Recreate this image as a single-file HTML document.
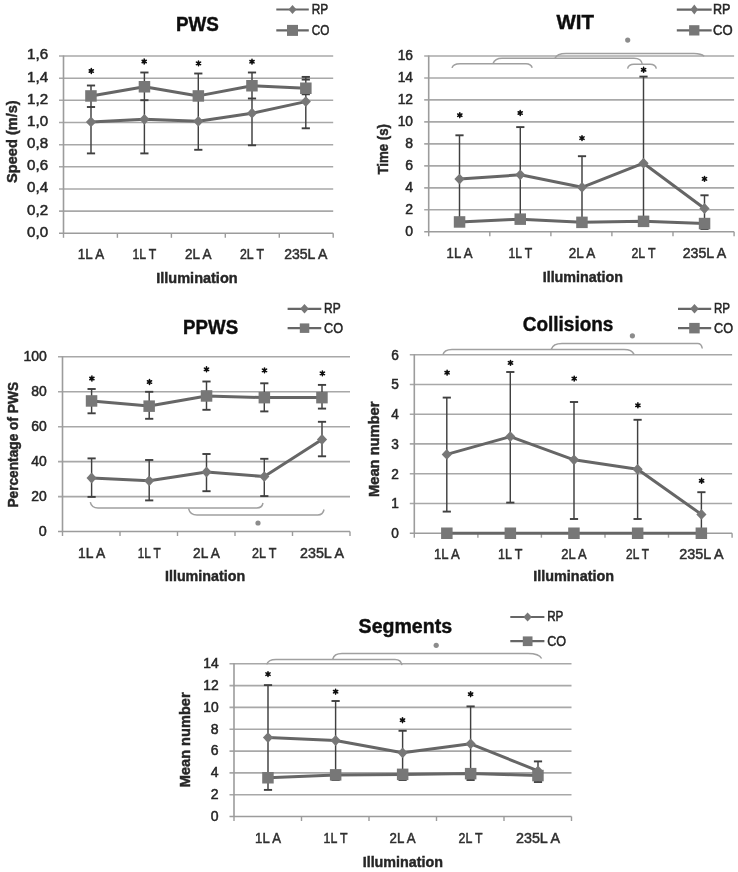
<!DOCTYPE html>
<html><head><meta charset="utf-8"><style>
html,body{margin:0;padding:0;background:#fff;}
svg{display:block;font-family:"Liberation Sans", sans-serif;}
</style></head><body>
<svg width="738" height="872" viewBox="0 0 738 872" fill="#262626">
<defs><filter id="b" x="0" y="0" width="1" height="1"><feGaussianBlur stdDeviation="0.55"/></filter></defs>
<rect width="738" height="872" fill="#fff"/>
<g filter="url(#b)">
<text x="48.1" y="236.7" font-size="14" stroke="#262626" stroke-width="0.5" text-anchor="end" textLength="21.0" lengthAdjust="spacingAndGlyphs">0,0</text>
<line x1="59.0" y1="211.1" x2="333.2" y2="211.1" stroke="#a8a8a8" stroke-width="1.6"/>
<text x="48.1" y="214.5" font-size="14" stroke="#262626" stroke-width="0.5" text-anchor="end" textLength="21.0" lengthAdjust="spacingAndGlyphs">0,2</text>
<line x1="59.0" y1="189.0" x2="333.2" y2="189.0" stroke="#a8a8a8" stroke-width="1.6"/>
<text x="48.1" y="192.4" font-size="14" stroke="#262626" stroke-width="0.5" text-anchor="end" textLength="21.0" lengthAdjust="spacingAndGlyphs">0,4</text>
<line x1="59.0" y1="166.8" x2="333.2" y2="166.8" stroke="#a8a8a8" stroke-width="1.6"/>
<text x="48.1" y="170.2" font-size="14" stroke="#262626" stroke-width="0.5" text-anchor="end" textLength="21.0" lengthAdjust="spacingAndGlyphs">0,6</text>
<line x1="59.0" y1="144.7" x2="333.2" y2="144.7" stroke="#a8a8a8" stroke-width="1.6"/>
<text x="48.1" y="148.1" font-size="14" stroke="#262626" stroke-width="0.5" text-anchor="end" textLength="21.0" lengthAdjust="spacingAndGlyphs">0,8</text>
<line x1="59.0" y1="122.5" x2="333.2" y2="122.5" stroke="#a8a8a8" stroke-width="1.6"/>
<text x="48.1" y="125.9" font-size="14" stroke="#262626" stroke-width="0.5" text-anchor="end" textLength="21.0" lengthAdjust="spacingAndGlyphs">1,0</text>
<line x1="59.0" y1="100.3" x2="333.2" y2="100.3" stroke="#a8a8a8" stroke-width="1.6"/>
<text x="48.1" y="103.7" font-size="14" stroke="#262626" stroke-width="0.5" text-anchor="end" textLength="21.0" lengthAdjust="spacingAndGlyphs">1,2</text>
<line x1="59.0" y1="78.2" x2="333.2" y2="78.2" stroke="#a8a8a8" stroke-width="1.6"/>
<text x="48.1" y="81.6" font-size="14" stroke="#262626" stroke-width="0.5" text-anchor="end" textLength="21.0" lengthAdjust="spacingAndGlyphs">1,4</text>
<line x1="59.0" y1="56.0" x2="333.2" y2="56.0" stroke="#a8a8a8" stroke-width="1.6"/>
<text x="48.1" y="59.4" font-size="14" stroke="#262626" stroke-width="0.5" text-anchor="end" textLength="21.0" lengthAdjust="spacingAndGlyphs">1,6</text>
<line x1="63.5" y1="55.5" x2="63.5" y2="233.8" stroke="#9c9c9c" stroke-width="1.6"/>
<line x1="59.0" y1="233.3" x2="333.2" y2="233.3" stroke="#9c9c9c" stroke-width="1.6"/>
<line x1="63.5" y1="233.3" x2="63.5" y2="237.8" stroke="#9c9c9c" stroke-width="1.4"/>
<line x1="117.4" y1="233.3" x2="117.4" y2="237.8" stroke="#9c9c9c" stroke-width="1.4"/>
<line x1="171.4" y1="233.3" x2="171.4" y2="237.8" stroke="#9c9c9c" stroke-width="1.4"/>
<line x1="225.3" y1="233.3" x2="225.3" y2="237.8" stroke="#9c9c9c" stroke-width="1.4"/>
<line x1="279.3" y1="233.3" x2="279.3" y2="237.8" stroke="#9c9c9c" stroke-width="1.4"/>
<line x1="333.2" y1="233.3" x2="333.2" y2="237.8" stroke="#9c9c9c" stroke-width="1.4"/>
<line x1="91.0" y1="85.5" x2="91.0" y2="153.4" stroke="#404040" stroke-width="1.45"/>
<line x1="86.9" y1="85.5" x2="95.1" y2="85.5" stroke="#404040" stroke-width="1.9"/>
<line x1="86.9" y1="107.0" x2="95.1" y2="107.0" stroke="#404040" stroke-width="1.9"/>
<line x1="86.9" y1="153.4" x2="95.1" y2="153.4" stroke="#404040" stroke-width="1.9"/>
<line x1="144.4" y1="72.5" x2="144.4" y2="153.4" stroke="#404040" stroke-width="1.45"/>
<line x1="140.3" y1="72.5" x2="148.5" y2="72.5" stroke="#404040" stroke-width="1.9"/>
<line x1="140.3" y1="100.2" x2="148.5" y2="100.2" stroke="#404040" stroke-width="1.9"/>
<line x1="140.3" y1="153.4" x2="148.5" y2="153.4" stroke="#404040" stroke-width="1.9"/>
<line x1="198.3" y1="73.5" x2="198.3" y2="149.8" stroke="#404040" stroke-width="1.45"/>
<line x1="194.2" y1="73.5" x2="202.4" y2="73.5" stroke="#404040" stroke-width="1.9"/>
<line x1="194.2" y1="149.8" x2="202.4" y2="149.8" stroke="#404040" stroke-width="1.9"/>
<line x1="252.0" y1="72.5" x2="252.0" y2="145.3" stroke="#404040" stroke-width="1.45"/>
<line x1="247.9" y1="72.5" x2="256.1" y2="72.5" stroke="#404040" stroke-width="1.9"/>
<line x1="247.9" y1="98.5" x2="256.1" y2="98.5" stroke="#404040" stroke-width="1.9"/>
<line x1="247.9" y1="145.3" x2="256.1" y2="145.3" stroke="#404040" stroke-width="1.9"/>
<line x1="305.8" y1="76.9" x2="305.8" y2="128.3" stroke="#404040" stroke-width="1.45"/>
<line x1="301.7" y1="76.9" x2="309.9" y2="76.9" stroke="#404040" stroke-width="1.9"/>
<line x1="301.7" y1="79.6" x2="309.9" y2="79.6" stroke="#404040" stroke-width="1.9"/>
<line x1="301.7" y1="94.3" x2="309.9" y2="94.3" stroke="#404040" stroke-width="1.9"/>
<line x1="301.7" y1="128.3" x2="309.9" y2="128.3" stroke="#404040" stroke-width="1.9"/>
<polyline points="91.0,95.9 144.4,86.7 198.3,95.9 252.0,85.7 305.8,88.2" fill="none" stroke="#666666" stroke-width="3" stroke-linejoin="round"/>
<polyline points="91.0,121.9 144.4,119.3 198.3,121.3 252.0,113.2 305.8,101.6" fill="none" stroke="#666666" stroke-width="3" stroke-linejoin="round"/>
<path d="M91.0 116.5L96.1 121.9L91.0 127.3L85.9 121.9Z" fill="#777777"/>
<path d="M144.4 113.9L149.5 119.3L144.4 124.7L139.3 119.3Z" fill="#777777"/>
<path d="M198.3 115.9L203.4 121.3L198.3 126.7L193.2 121.3Z" fill="#777777"/>
<path d="M252.0 107.8L257.1 113.2L252.0 118.6L246.9 113.2Z" fill="#777777"/>
<path d="M305.8 96.2L310.9 101.6L305.8 107.0L300.7 101.6Z" fill="#777777"/>
<rect x="85.2" y="90.2" width="11.5" height="11.5" fill="#777777"/>
<rect x="138.7" y="81.0" width="11.5" height="11.5" fill="#777777"/>
<rect x="192.6" y="90.2" width="11.5" height="11.5" fill="#777777"/>
<rect x="246.2" y="80.0" width="11.5" height="11.5" fill="#777777"/>
<rect x="300.1" y="82.5" width="11.5" height="11.5" fill="#777777"/>
<path d="M91.30 68.58L91.30 73.42M89.21 69.79L93.39 72.21M93.39 69.79L89.21 72.21" stroke="#111" stroke-width="1.58" stroke-linecap="round"/>
<circle cx="91.3" cy="71.0" r="1.26" fill="#111"/>
<path d="M144.20 59.09L144.20 63.91M142.11 60.29L146.29 62.71M146.29 60.29L142.11 62.71" stroke="#111" stroke-width="1.58" stroke-linecap="round"/>
<circle cx="144.2" cy="61.5" r="1.26" fill="#111"/>
<path d="M198.50 60.98L198.50 65.81M196.41 62.19L200.59 64.61M200.59 62.19L196.41 64.61" stroke="#111" stroke-width="1.58" stroke-linecap="round"/>
<circle cx="198.5" cy="63.4" r="1.26" fill="#111"/>
<path d="M252.00 59.29L252.00 64.12M249.91 60.49L254.09 62.91M254.09 60.49L249.91 62.91" stroke="#111" stroke-width="1.58" stroke-linecap="round"/>
<circle cx="252.0" cy="61.7" r="1.26" fill="#111"/>
<text x="91.0" y="258.8" font-size="14.5" stroke="#2e2e2e" stroke-width="0.5" text-anchor="middle" textLength="26.3" lengthAdjust="spacingAndGlyphs" fill="#2e2e2e">1L A</text>
<text x="144.4" y="258.8" font-size="14.5" stroke="#2e2e2e" stroke-width="0.5" text-anchor="middle" textLength="23.8" lengthAdjust="spacingAndGlyphs" fill="#2e2e2e">1L T</text>
<text x="198.3" y="258.8" font-size="14.5" stroke="#2e2e2e" stroke-width="0.5" text-anchor="middle" textLength="26.5" lengthAdjust="spacingAndGlyphs" fill="#2e2e2e">2L A</text>
<text x="252.0" y="258.8" font-size="14.5" stroke="#2e2e2e" stroke-width="0.5" text-anchor="middle" textLength="24.0" lengthAdjust="spacingAndGlyphs" fill="#2e2e2e">2L T</text>
<text x="305.8" y="258.8" font-size="14.5" stroke="#2e2e2e" stroke-width="0.5" text-anchor="middle" textLength="43.2" lengthAdjust="spacingAndGlyphs" fill="#2e2e2e">235L A</text>
<text x="156.3" y="283.3" font-size="15.5" stroke="#262626" stroke-width="0.45" font-weight="bold" textLength="81.3" lengthAdjust="spacingAndGlyphs">Illumination</text>
<text x="17.0" y="182.9" font-size="14.5" stroke="#262626" stroke-width="0.45" font-weight="bold" textLength="82.6" lengthAdjust="spacingAndGlyphs" transform="rotate(-90 17.0 182.9)">Speed (m/s)</text>
<text x="176.0" y="30.8" font-size="20" stroke="#111" stroke-width="0.45" font-weight="bold" textLength="42.9" lengthAdjust="spacingAndGlyphs" fill="#111">PWS</text>
<line x1="276.3" y1="9.5" x2="308.8" y2="9.5" stroke="#666666" stroke-width="2.2"/>
<path d="M292.5 5.0L296.5 9.5L292.5 14.0L288.5 9.5Z" fill="#777777"/>
<line x1="276.3" y1="30.4" x2="308.8" y2="30.4" stroke="#666666" stroke-width="2.2"/>
<rect x="287.0" y="24.9" width="11" height="11" fill="#777777"/>
<text x="311.8" y="13.8" font-size="14.5" stroke="#262626" stroke-width="0.5" textLength="16.5" lengthAdjust="spacingAndGlyphs">RP</text>
<text x="311.8" y="35.3" font-size="14.5" stroke="#262626" stroke-width="0.5" textLength="17.6" lengthAdjust="spacingAndGlyphs">CO</text>
<text x="413.0" y="235.7" font-size="14" stroke="#262626" stroke-width="0.5" text-anchor="end" textLength="7.8" lengthAdjust="spacingAndGlyphs">0</text>
<line x1="424.2" y1="209.8" x2="734.1" y2="209.8" stroke="#a8a8a8" stroke-width="1.6"/>
<text x="413.0" y="213.7" font-size="14" stroke="#262626" stroke-width="0.5" text-anchor="end" textLength="7.8" lengthAdjust="spacingAndGlyphs">2</text>
<line x1="424.2" y1="187.9" x2="734.1" y2="187.9" stroke="#a8a8a8" stroke-width="1.6"/>
<text x="413.0" y="191.8" font-size="14" stroke="#262626" stroke-width="0.5" text-anchor="end" textLength="7.8" lengthAdjust="spacingAndGlyphs">4</text>
<line x1="424.2" y1="165.9" x2="734.1" y2="165.9" stroke="#a8a8a8" stroke-width="1.6"/>
<text x="413.0" y="169.8" font-size="14" stroke="#262626" stroke-width="0.5" text-anchor="end" textLength="7.8" lengthAdjust="spacingAndGlyphs">6</text>
<line x1="424.2" y1="143.9" x2="734.1" y2="143.9" stroke="#a8a8a8" stroke-width="1.6"/>
<text x="413.0" y="147.8" font-size="14" stroke="#262626" stroke-width="0.5" text-anchor="end" textLength="7.8" lengthAdjust="spacingAndGlyphs">8</text>
<line x1="424.2" y1="121.9" x2="734.1" y2="121.9" stroke="#a8a8a8" stroke-width="1.6"/>
<text x="413.0" y="125.8" font-size="14" stroke="#262626" stroke-width="0.5" text-anchor="end" textLength="15.3" lengthAdjust="spacingAndGlyphs">10</text>
<line x1="424.2" y1="99.9" x2="734.1" y2="99.9" stroke="#a8a8a8" stroke-width="1.6"/>
<text x="413.0" y="103.8" font-size="14" stroke="#262626" stroke-width="0.5" text-anchor="end" textLength="15.3" lengthAdjust="spacingAndGlyphs">12</text>
<line x1="424.2" y1="78.0" x2="734.1" y2="78.0" stroke="#a8a8a8" stroke-width="1.6"/>
<text x="413.0" y="81.9" font-size="14" stroke="#262626" stroke-width="0.5" text-anchor="end" textLength="15.3" lengthAdjust="spacingAndGlyphs">14</text>
<line x1="424.2" y1="56.0" x2="734.1" y2="56.0" stroke="#a8a8a8" stroke-width="1.6"/>
<text x="413.0" y="59.9" font-size="14" stroke="#262626" stroke-width="0.5" text-anchor="end" textLength="15.3" lengthAdjust="spacingAndGlyphs">16</text>
<line x1="428.7" y1="55.5" x2="428.7" y2="232.3" stroke="#9c9c9c" stroke-width="1.6"/>
<line x1="424.2" y1="231.8" x2="734.1" y2="231.8" stroke="#9c9c9c" stroke-width="1.6"/>
<line x1="428.7" y1="231.8" x2="428.7" y2="236.3" stroke="#9c9c9c" stroke-width="1.4"/>
<line x1="489.8" y1="231.8" x2="489.8" y2="236.3" stroke="#9c9c9c" stroke-width="1.4"/>
<line x1="550.9" y1="231.8" x2="550.9" y2="236.3" stroke="#9c9c9c" stroke-width="1.4"/>
<line x1="611.9" y1="231.8" x2="611.9" y2="236.3" stroke="#9c9c9c" stroke-width="1.4"/>
<line x1="673.0" y1="231.8" x2="673.0" y2="236.3" stroke="#9c9c9c" stroke-width="1.4"/>
<line x1="734.1" y1="231.8" x2="734.1" y2="236.3" stroke="#9c9c9c" stroke-width="1.4"/>
<path d="M452 67.9 Q453 63.7 460 63.7 L526 63.7 Q531 63.7 532.2 67.8" fill="none" stroke="#a0a0a0" stroke-width="1.5"/>
<path d="M493 63.5 Q495 58.3 502 58.3 L634 58.3 Q641.5 58.3 642.3 64.4" fill="none" stroke="#a0a0a0" stroke-width="1.5"/>
<path d="M555 58.3 Q557 53.6 566 53.6 L694 53.6 Q701 53.6 704.2 56.3" fill="none" stroke="#a0a0a0" stroke-width="1.5"/>
<path d="M627.6 68.6 Q628.5 64.3 634 64.3 L650 64.3 Q655.5 64.3 656.3 68.6" fill="none" stroke="#a0a0a0" stroke-width="1.5"/>
<circle cx="627.7" cy="40.1" r="2.6" fill="#8c8c8c"/>
<line x1="459.5" y1="135.3" x2="459.5" y2="222.0" stroke="#404040" stroke-width="1.45"/>
<line x1="455.4" y1="135.3" x2="463.6" y2="135.3" stroke="#404040" stroke-width="1.9"/>
<line x1="455.4" y1="222.0" x2="463.6" y2="222.0" stroke="#404040" stroke-width="1.9"/>
<line x1="520.3" y1="127.1" x2="520.3" y2="219.0" stroke="#404040" stroke-width="1.45"/>
<line x1="516.2" y1="127.1" x2="524.4" y2="127.1" stroke="#404040" stroke-width="1.9"/>
<line x1="516.2" y1="219.0" x2="524.4" y2="219.0" stroke="#404040" stroke-width="1.9"/>
<line x1="582.0" y1="156.2" x2="582.0" y2="222.0" stroke="#404040" stroke-width="1.45"/>
<line x1="577.9" y1="156.2" x2="586.1" y2="156.2" stroke="#404040" stroke-width="1.9"/>
<line x1="577.9" y1="222.0" x2="586.1" y2="222.0" stroke="#404040" stroke-width="1.9"/>
<line x1="643.5" y1="76.6" x2="643.5" y2="221.0" stroke="#404040" stroke-width="1.45"/>
<line x1="639.4" y1="76.6" x2="647.6" y2="76.6" stroke="#404040" stroke-width="1.9"/>
<line x1="639.4" y1="221.0" x2="647.6" y2="221.0" stroke="#404040" stroke-width="1.9"/>
<line x1="704.5" y1="195.3" x2="704.5" y2="229.0" stroke="#404040" stroke-width="1.45"/>
<line x1="700.4" y1="195.3" x2="708.6" y2="195.3" stroke="#404040" stroke-width="1.9"/>
<line x1="700.4" y1="229.0" x2="708.6" y2="229.0" stroke="#404040" stroke-width="1.9"/>
<polyline points="459.5,222.0 520.3,219.2 582.0,222.3 643.5,221.3 704.5,223.5" fill="none" stroke="#666666" stroke-width="3" stroke-linejoin="round"/>
<polyline points="459.5,179.1 520.3,174.8 582.0,187.3 643.5,163.2 704.5,208.5" fill="none" stroke="#666666" stroke-width="3" stroke-linejoin="round"/>
<path d="M459.5 173.7L464.6 179.1L459.5 184.5L454.4 179.1Z" fill="#777777"/>
<path d="M520.3 169.4L525.4 174.8L520.3 180.2L515.2 174.8Z" fill="#777777"/>
<path d="M582.0 181.9L587.1 187.3L582.0 192.7L576.9 187.3Z" fill="#777777"/>
<path d="M643.5 157.8L648.6 163.2L643.5 168.6L638.4 163.2Z" fill="#777777"/>
<path d="M704.5 203.1L709.6 208.5L704.5 213.9L699.4 208.5Z" fill="#777777"/>
<rect x="453.8" y="216.2" width="11.5" height="11.5" fill="#777777"/>
<rect x="514.5" y="213.4" width="11.5" height="11.5" fill="#777777"/>
<rect x="576.2" y="216.6" width="11.5" height="11.5" fill="#777777"/>
<rect x="637.8" y="215.6" width="11.5" height="11.5" fill="#777777"/>
<rect x="698.8" y="217.8" width="11.5" height="11.5" fill="#777777"/>
<path d="M459.80 112.78L459.80 117.62M457.71 113.99L461.89 116.41M461.89 113.99L457.71 116.41" stroke="#111" stroke-width="1.58" stroke-linecap="round"/>
<circle cx="459.8" cy="115.2" r="1.26" fill="#111"/>
<path d="M520.20 110.58L520.20 115.42M518.11 111.79L522.29 114.21M522.29 111.79L518.11 114.21" stroke="#111" stroke-width="1.58" stroke-linecap="round"/>
<circle cx="520.2" cy="113.0" r="1.26" fill="#111"/>
<path d="M582.00 135.69L582.00 140.51M579.91 136.89L584.09 139.31M584.09 136.89L579.91 139.31" stroke="#111" stroke-width="1.58" stroke-linecap="round"/>
<circle cx="582.0" cy="138.1" r="1.26" fill="#111"/>
<path d="M643.60 67.38L643.60 72.22M641.51 68.59L645.69 71.01M645.69 68.59L641.51 71.01" stroke="#111" stroke-width="1.58" stroke-linecap="round"/>
<circle cx="643.6" cy="69.8" r="1.26" fill="#111"/>
<path d="M704.50 176.49L704.50 181.31M702.41 177.69L706.59 180.11M706.59 177.69L702.41 180.11" stroke="#111" stroke-width="1.58" stroke-linecap="round"/>
<circle cx="704.5" cy="178.9" r="1.26" fill="#111"/>
<text x="459.5" y="257.6" font-size="14.5" stroke="#2e2e2e" stroke-width="0.5" text-anchor="middle" textLength="25.8" lengthAdjust="spacingAndGlyphs" fill="#2e2e2e">1L A</text>
<text x="520.3" y="257.6" font-size="14.5" stroke="#2e2e2e" stroke-width="0.5" text-anchor="middle" textLength="23.7" lengthAdjust="spacingAndGlyphs" fill="#2e2e2e">1L T</text>
<text x="582.0" y="257.6" font-size="14.5" stroke="#2e2e2e" stroke-width="0.5" text-anchor="middle" textLength="26.5" lengthAdjust="spacingAndGlyphs" fill="#2e2e2e">2L A</text>
<text x="643.5" y="257.6" font-size="14.5" stroke="#2e2e2e" stroke-width="0.5" text-anchor="middle" textLength="24.0" lengthAdjust="spacingAndGlyphs" fill="#2e2e2e">2L T</text>
<text x="704.5" y="257.6" font-size="14.5" stroke="#2e2e2e" stroke-width="0.5" text-anchor="middle" textLength="43.5" lengthAdjust="spacingAndGlyphs" fill="#2e2e2e">235L A</text>
<text x="542.7" y="281.7" font-size="15.5" stroke="#262626" stroke-width="0.45" font-weight="bold" textLength="80.3" lengthAdjust="spacingAndGlyphs">Illumination</text>
<text x="387.5" y="174.5" font-size="14.5" stroke="#262626" stroke-width="0.45" font-weight="bold" textLength="50.4" lengthAdjust="spacingAndGlyphs" transform="rotate(-90 387.5 174.5)">Time (s)</text>
<text x="556.4" y="29.3" font-size="21" stroke="#111" stroke-width="0.45" font-weight="bold" textLength="37.5" lengthAdjust="spacingAndGlyphs" fill="#111">WIT</text>
<line x1="676.8" y1="9.6" x2="711.7" y2="9.6" stroke="#666666" stroke-width="2.2"/>
<path d="M694.3 4.6L698.0 9.6L694.3 14.6L690.5 9.6Z" fill="#777777"/>
<line x1="676.8" y1="30.4" x2="711.7" y2="30.4" stroke="#666666" stroke-width="2.2"/>
<rect x="689.1" y="25.2" width="10.3" height="10.3" fill="#777777"/>
<text x="713.0" y="13.9" font-size="14.5" stroke="#262626" stroke-width="0.5" textLength="17.5" lengthAdjust="spacingAndGlyphs">RP</text>
<text x="713.0" y="35.3" font-size="14.5" stroke="#262626" stroke-width="0.5" textLength="19.6" lengthAdjust="spacingAndGlyphs">CO</text>
<text x="46.8" y="535.7" font-size="14" stroke="#262626" stroke-width="0.5" text-anchor="end" textLength="8.0" lengthAdjust="spacingAndGlyphs">0</text>
<line x1="58.0" y1="496.6" x2="350.0" y2="496.6" stroke="#a8a8a8" stroke-width="1.6"/>
<text x="46.8" y="500.8" font-size="14" stroke="#262626" stroke-width="0.5" text-anchor="end" textLength="15.5" lengthAdjust="spacingAndGlyphs">20</text>
<line x1="58.0" y1="461.6" x2="350.0" y2="461.6" stroke="#a8a8a8" stroke-width="1.6"/>
<text x="46.8" y="465.8" font-size="14" stroke="#262626" stroke-width="0.5" text-anchor="end" textLength="15.5" lengthAdjust="spacingAndGlyphs">40</text>
<line x1="58.0" y1="426.7" x2="350.0" y2="426.7" stroke="#a8a8a8" stroke-width="1.6"/>
<text x="46.8" y="430.9" font-size="14" stroke="#262626" stroke-width="0.5" text-anchor="end" textLength="15.5" lengthAdjust="spacingAndGlyphs">60</text>
<line x1="58.0" y1="391.7" x2="350.0" y2="391.7" stroke="#a8a8a8" stroke-width="1.6"/>
<text x="46.8" y="395.9" font-size="14" stroke="#262626" stroke-width="0.5" text-anchor="end" textLength="15.5" lengthAdjust="spacingAndGlyphs">80</text>
<line x1="58.0" y1="356.8" x2="350.0" y2="356.8" stroke="#a8a8a8" stroke-width="1.6"/>
<text x="46.8" y="361.0" font-size="14" stroke="#262626" stroke-width="0.5" text-anchor="end" textLength="23.4" lengthAdjust="spacingAndGlyphs">100</text>
<line x1="62.5" y1="356.3" x2="62.5" y2="532.0" stroke="#9c9c9c" stroke-width="1.6"/>
<line x1="58.0" y1="531.5" x2="350.0" y2="531.5" stroke="#9c9c9c" stroke-width="1.6"/>
<line x1="62.5" y1="531.5" x2="62.5" y2="536.0" stroke="#9c9c9c" stroke-width="1.4"/>
<line x1="120.0" y1="531.5" x2="120.0" y2="536.0" stroke="#9c9c9c" stroke-width="1.4"/>
<line x1="177.5" y1="531.5" x2="177.5" y2="536.0" stroke="#9c9c9c" stroke-width="1.4"/>
<line x1="235.0" y1="531.5" x2="235.0" y2="536.0" stroke="#9c9c9c" stroke-width="1.4"/>
<line x1="292.5" y1="531.5" x2="292.5" y2="536.0" stroke="#9c9c9c" stroke-width="1.4"/>
<line x1="350.0" y1="531.5" x2="350.0" y2="536.0" stroke="#9c9c9c" stroke-width="1.4"/>
<path d="M90.3 502.2 Q91.5 508 98 508 L256.8 508 Q262 508 263 503" fill="none" stroke="#a0a0a0" stroke-width="1.5"/>
<path d="M188.5 508.3 Q190 515 197 515 L317.8 515 Q323 515 324 509.5" fill="none" stroke="#a0a0a0" stroke-width="1.5"/>
<circle cx="258" cy="523" r="2.6" fill="#8c8c8c"/>
<line x1="91.6" y1="389.0" x2="91.6" y2="413.3" stroke="#404040" stroke-width="1.45"/>
<line x1="87.5" y1="389.0" x2="95.7" y2="389.0" stroke="#404040" stroke-width="1.9"/>
<line x1="87.5" y1="413.3" x2="95.7" y2="413.3" stroke="#404040" stroke-width="1.9"/>
<line x1="91.6" y1="458.4" x2="91.6" y2="496.9" stroke="#404040" stroke-width="1.45"/>
<line x1="87.5" y1="458.4" x2="95.7" y2="458.4" stroke="#404040" stroke-width="1.9"/>
<line x1="87.5" y1="496.9" x2="95.7" y2="496.9" stroke="#404040" stroke-width="1.9"/>
<line x1="149.2" y1="391.8" x2="149.2" y2="418.8" stroke="#404040" stroke-width="1.45"/>
<line x1="145.1" y1="391.8" x2="153.3" y2="391.8" stroke="#404040" stroke-width="1.9"/>
<line x1="145.1" y1="418.8" x2="153.3" y2="418.8" stroke="#404040" stroke-width="1.9"/>
<line x1="149.2" y1="460.0" x2="149.2" y2="500.4" stroke="#404040" stroke-width="1.45"/>
<line x1="145.1" y1="460.0" x2="153.3" y2="460.0" stroke="#404040" stroke-width="1.9"/>
<line x1="145.1" y1="500.4" x2="153.3" y2="500.4" stroke="#404040" stroke-width="1.9"/>
<line x1="206.5" y1="381.5" x2="206.5" y2="409.8" stroke="#404040" stroke-width="1.45"/>
<line x1="202.4" y1="381.5" x2="210.6" y2="381.5" stroke="#404040" stroke-width="1.9"/>
<line x1="202.4" y1="409.8" x2="210.6" y2="409.8" stroke="#404040" stroke-width="1.9"/>
<line x1="206.5" y1="454.0" x2="206.5" y2="491.2" stroke="#404040" stroke-width="1.45"/>
<line x1="202.4" y1="454.0" x2="210.6" y2="454.0" stroke="#404040" stroke-width="1.9"/>
<line x1="202.4" y1="491.2" x2="210.6" y2="491.2" stroke="#404040" stroke-width="1.9"/>
<line x1="264.3" y1="383.3" x2="264.3" y2="411.4" stroke="#404040" stroke-width="1.45"/>
<line x1="260.2" y1="383.3" x2="268.4" y2="383.3" stroke="#404040" stroke-width="1.9"/>
<line x1="260.2" y1="411.4" x2="268.4" y2="411.4" stroke="#404040" stroke-width="1.9"/>
<line x1="264.3" y1="458.8" x2="264.3" y2="496.1" stroke="#404040" stroke-width="1.45"/>
<line x1="260.2" y1="458.8" x2="268.4" y2="458.8" stroke="#404040" stroke-width="1.9"/>
<line x1="260.2" y1="496.1" x2="268.4" y2="496.1" stroke="#404040" stroke-width="1.9"/>
<line x1="322.0" y1="384.9" x2="322.0" y2="408.6" stroke="#404040" stroke-width="1.45"/>
<line x1="317.9" y1="384.9" x2="326.1" y2="384.9" stroke="#404040" stroke-width="1.9"/>
<line x1="317.9" y1="408.6" x2="326.1" y2="408.6" stroke="#404040" stroke-width="1.9"/>
<line x1="322.0" y1="421.8" x2="322.0" y2="456.3" stroke="#404040" stroke-width="1.45"/>
<line x1="317.9" y1="421.8" x2="326.1" y2="421.8" stroke="#404040" stroke-width="1.9"/>
<line x1="317.9" y1="456.3" x2="326.1" y2="456.3" stroke="#404040" stroke-width="1.9"/>
<polyline points="91.6,401.0 149.2,406.1 206.5,396.0 264.3,397.6 322.0,397.6" fill="none" stroke="#666666" stroke-width="3" stroke-linejoin="round"/>
<polyline points="91.6,478.0 149.2,480.8 206.5,472.0 264.3,476.6 322.0,439.5" fill="none" stroke="#666666" stroke-width="3" stroke-linejoin="round"/>
<path d="M91.6 472.6L96.7 478.0L91.6 483.4L86.5 478.0Z" fill="#777777"/>
<path d="M149.2 475.4L154.3 480.8L149.2 486.2L144.1 480.8Z" fill="#777777"/>
<path d="M206.5 466.6L211.6 472.0L206.5 477.4L201.4 472.0Z" fill="#777777"/>
<path d="M264.3 471.2L269.4 476.6L264.3 482.0L259.2 476.6Z" fill="#777777"/>
<path d="M322.0 434.1L327.1 439.5L322.0 444.9L316.9 439.5Z" fill="#777777"/>
<rect x="85.8" y="395.2" width="11.5" height="11.5" fill="#777777"/>
<rect x="143.4" y="400.4" width="11.5" height="11.5" fill="#777777"/>
<rect x="200.8" y="390.2" width="11.5" height="11.5" fill="#777777"/>
<rect x="258.6" y="391.9" width="11.5" height="11.5" fill="#777777"/>
<rect x="316.2" y="391.9" width="11.5" height="11.5" fill="#777777"/>
<path d="M91.90 376.08L91.90 380.92M89.81 377.29L93.99 379.71M93.99 377.29L89.81 379.71" stroke="#111" stroke-width="1.58" stroke-linecap="round"/>
<circle cx="91.9" cy="378.5" r="1.26" fill="#111"/>
<path d="M149.50 379.58L149.50 384.42M147.41 380.79L151.59 383.21M151.59 380.79L147.41 383.21" stroke="#111" stroke-width="1.58" stroke-linecap="round"/>
<circle cx="149.5" cy="382.0" r="1.26" fill="#111"/>
<path d="M206.50 366.88L206.50 371.72M204.41 368.09L208.59 370.51M208.59 368.09L204.41 370.51" stroke="#111" stroke-width="1.58" stroke-linecap="round"/>
<circle cx="206.5" cy="369.3" r="1.26" fill="#111"/>
<path d="M264.50 367.98L264.50 372.81M262.41 369.19L266.59 371.61M266.59 369.19L262.41 371.61" stroke="#111" stroke-width="1.58" stroke-linecap="round"/>
<circle cx="264.5" cy="370.4" r="1.26" fill="#111"/>
<path d="M322.40 370.98L322.40 375.81M320.31 372.19L324.49 374.61M324.49 372.19L320.31 374.61" stroke="#111" stroke-width="1.58" stroke-linecap="round"/>
<circle cx="322.4" cy="373.4" r="1.26" fill="#111"/>
<text x="91.6" y="558.3" font-size="14.5" stroke="#2e2e2e" stroke-width="0.5" text-anchor="middle" textLength="27.2" lengthAdjust="spacingAndGlyphs" fill="#2e2e2e">1L A</text>
<text x="149.2" y="558.3" font-size="14.5" stroke="#2e2e2e" stroke-width="0.5" text-anchor="middle" textLength="23.0" lengthAdjust="spacingAndGlyphs" fill="#2e2e2e">1L T</text>
<text x="206.5" y="558.3" font-size="14.5" stroke="#2e2e2e" stroke-width="0.5" text-anchor="middle" textLength="26.8" lengthAdjust="spacingAndGlyphs" fill="#2e2e2e">2L A</text>
<text x="264.3" y="558.3" font-size="14.5" stroke="#2e2e2e" stroke-width="0.5" text-anchor="middle" textLength="24.4" lengthAdjust="spacingAndGlyphs" fill="#2e2e2e">2L T</text>
<text x="322.0" y="558.3" font-size="14.5" stroke="#2e2e2e" stroke-width="0.5" text-anchor="middle" textLength="43.9" lengthAdjust="spacingAndGlyphs" fill="#2e2e2e">235L A</text>
<text x="165.0" y="581.0" font-size="15.5" stroke="#262626" stroke-width="0.45" font-weight="bold" textLength="80.1" lengthAdjust="spacingAndGlyphs">Illumination</text>
<text x="18.3" y="507.6" font-size="14.5" stroke="#262626" stroke-width="0.45" font-weight="bold" textLength="125.7" lengthAdjust="spacingAndGlyphs" transform="rotate(-90 18.3 507.6)">Percentage of PWS</text>
<text x="183.1" y="333.6" font-size="21" stroke="#111" stroke-width="0.45" font-weight="bold" textLength="55.0" lengthAdjust="spacingAndGlyphs" fill="#111">PPWS</text>
<line x1="287.6" y1="308.8" x2="321.3" y2="308.8" stroke="#666666" stroke-width="2.2"/>
<path d="M304.5 304.1L308.8 308.8L304.5 313.6L300.2 308.8Z" fill="#777777"/>
<line x1="287.6" y1="328.2" x2="321.3" y2="328.2" stroke="#666666" stroke-width="2.2"/>
<rect x="299.8" y="323.4" width="9.5" height="9.5" fill="#777777"/>
<text x="324.1" y="313.1" font-size="14.2" stroke="#262626" stroke-width="0.5" textLength="16.6" lengthAdjust="spacingAndGlyphs">RP</text>
<text x="324.1" y="333.1" font-size="14.2" stroke="#262626" stroke-width="0.5" textLength="19.0" lengthAdjust="spacingAndGlyphs">CO</text>
<text x="398.8" y="538.0" font-size="14" stroke="#262626" stroke-width="0.5" text-anchor="end" textLength="7.6" lengthAdjust="spacingAndGlyphs">0</text>
<line x1="409.8" y1="503.5" x2="732.1" y2="503.5" stroke="#a8a8a8" stroke-width="1.6"/>
<text x="398.8" y="508.3" font-size="14" stroke="#262626" stroke-width="0.5" text-anchor="end" textLength="7.6" lengthAdjust="spacingAndGlyphs">1</text>
<line x1="409.8" y1="473.7" x2="732.1" y2="473.7" stroke="#a8a8a8" stroke-width="1.6"/>
<text x="398.8" y="478.5" font-size="14" stroke="#262626" stroke-width="0.5" text-anchor="end" textLength="7.6" lengthAdjust="spacingAndGlyphs">2</text>
<line x1="409.8" y1="443.9" x2="732.1" y2="443.9" stroke="#a8a8a8" stroke-width="1.6"/>
<text x="398.8" y="448.8" font-size="14" stroke="#262626" stroke-width="0.5" text-anchor="end" textLength="7.6" lengthAdjust="spacingAndGlyphs">3</text>
<line x1="409.8" y1="414.2" x2="732.1" y2="414.2" stroke="#a8a8a8" stroke-width="1.6"/>
<text x="398.8" y="419.0" font-size="14" stroke="#262626" stroke-width="0.5" text-anchor="end" textLength="7.6" lengthAdjust="spacingAndGlyphs">4</text>
<line x1="409.8" y1="384.5" x2="732.1" y2="384.5" stroke="#a8a8a8" stroke-width="1.6"/>
<text x="398.8" y="389.3" font-size="14" stroke="#262626" stroke-width="0.5" text-anchor="end" textLength="7.6" lengthAdjust="spacingAndGlyphs">5</text>
<line x1="409.8" y1="354.7" x2="732.1" y2="354.7" stroke="#a8a8a8" stroke-width="1.6"/>
<text x="398.8" y="359.5" font-size="14" stroke="#262626" stroke-width="0.5" text-anchor="end" textLength="7.6" lengthAdjust="spacingAndGlyphs">6</text>
<line x1="414.3" y1="354.2" x2="414.3" y2="533.7" stroke="#9c9c9c" stroke-width="1.6"/>
<line x1="409.8" y1="533.2" x2="732.1" y2="533.2" stroke="#9c9c9c" stroke-width="1.6"/>
<line x1="414.3" y1="533.2" x2="414.3" y2="537.7" stroke="#9c9c9c" stroke-width="1.4"/>
<line x1="477.9" y1="533.2" x2="477.9" y2="537.7" stroke="#9c9c9c" stroke-width="1.4"/>
<line x1="541.4" y1="533.2" x2="541.4" y2="537.7" stroke="#9c9c9c" stroke-width="1.4"/>
<line x1="605.0" y1="533.2" x2="605.0" y2="537.7" stroke="#9c9c9c" stroke-width="1.4"/>
<line x1="668.5" y1="533.2" x2="668.5" y2="537.7" stroke="#9c9c9c" stroke-width="1.4"/>
<line x1="732.1" y1="533.2" x2="732.1" y2="537.7" stroke="#9c9c9c" stroke-width="1.4"/>
<path d="M442.9 354.9 Q444 349.5 452 349.5 L624 349.5 Q632 349.5 634 354.4" fill="none" stroke="#a0a0a0" stroke-width="1.5"/>
<path d="M551.3 349.3 Q553 343.4 562 343.4 L697.7 343.4 Q701.5 343.4 702.3 348.5" fill="none" stroke="#a0a0a0" stroke-width="1.5"/>
<circle cx="632.4" cy="335.8" r="2.6" fill="#8c8c8c"/>
<line x1="446.8" y1="397.6" x2="446.8" y2="511.6" stroke="#404040" stroke-width="1.45"/>
<line x1="442.7" y1="397.6" x2="450.9" y2="397.6" stroke="#404040" stroke-width="1.9"/>
<line x1="442.7" y1="511.6" x2="450.9" y2="511.6" stroke="#404040" stroke-width="1.9"/>
<line x1="510.3" y1="372.0" x2="510.3" y2="502.6" stroke="#404040" stroke-width="1.45"/>
<line x1="506.2" y1="372.0" x2="514.4" y2="372.0" stroke="#404040" stroke-width="1.9"/>
<line x1="506.2" y1="502.6" x2="514.4" y2="502.6" stroke="#404040" stroke-width="1.9"/>
<line x1="574.0" y1="402.0" x2="574.0" y2="519.0" stroke="#404040" stroke-width="1.45"/>
<line x1="569.9" y1="402.0" x2="578.1" y2="402.0" stroke="#404040" stroke-width="1.9"/>
<line x1="569.9" y1="519.0" x2="578.1" y2="519.0" stroke="#404040" stroke-width="1.9"/>
<line x1="637.6" y1="419.8" x2="637.6" y2="519.0" stroke="#404040" stroke-width="1.45"/>
<line x1="633.5" y1="419.8" x2="641.7" y2="419.8" stroke="#404040" stroke-width="1.9"/>
<line x1="633.5" y1="519.0" x2="641.7" y2="519.0" stroke="#404040" stroke-width="1.9"/>
<line x1="701.4" y1="492.2" x2="701.4" y2="533.0" stroke="#404040" stroke-width="1.45"/>
<line x1="697.3" y1="492.2" x2="705.5" y2="492.2" stroke="#404040" stroke-width="1.9"/>
<line x1="697.3" y1="533.0" x2="705.5" y2="533.0" stroke="#404040" stroke-width="1.9"/>
<polyline points="446.8,533.2 510.3,533.2 574.0,533.2 637.6,533.2 701.4,533.2" fill="none" stroke="#666666" stroke-width="3" stroke-linejoin="round"/>
<polyline points="446.8,454.4 510.3,436.6 574.0,459.8 637.6,469.3 701.4,514.4" fill="none" stroke="#666666" stroke-width="3" stroke-linejoin="round"/>
<path d="M446.8 449.0L451.9 454.4L446.8 459.8L441.7 454.4Z" fill="#777777"/>
<path d="M510.3 431.2L515.4 436.6L510.3 442.0L505.2 436.6Z" fill="#777777"/>
<path d="M574.0 454.4L579.1 459.8L574.0 465.2L568.9 459.8Z" fill="#777777"/>
<path d="M637.6 463.9L642.7 469.3L637.6 474.7L632.5 469.3Z" fill="#777777"/>
<path d="M701.4 509.0L706.5 514.4L701.4 519.8L696.3 514.4Z" fill="#777777"/>
<rect x="441.1" y="527.5" width="11.5" height="11.5" fill="#777777"/>
<rect x="504.6" y="527.5" width="11.5" height="11.5" fill="#777777"/>
<rect x="568.2" y="527.5" width="11.5" height="11.5" fill="#777777"/>
<rect x="631.9" y="527.5" width="11.5" height="11.5" fill="#777777"/>
<rect x="695.6" y="527.5" width="11.5" height="11.5" fill="#777777"/>
<path d="M447.10 370.28L447.10 375.12M445.01 371.49L449.19 373.91M449.19 371.49L445.01 373.91" stroke="#111" stroke-width="1.58" stroke-linecap="round"/>
<circle cx="447.1" cy="372.7" r="1.26" fill="#111"/>
<path d="M510.50 360.48L510.50 365.31M508.41 361.69L512.59 364.11M512.59 361.69L508.41 364.11" stroke="#111" stroke-width="1.58" stroke-linecap="round"/>
<circle cx="510.5" cy="362.9" r="1.26" fill="#111"/>
<path d="M574.20 376.19L574.20 381.02M572.11 377.39L576.29 379.81M576.29 377.39L572.11 379.81" stroke="#111" stroke-width="1.58" stroke-linecap="round"/>
<circle cx="574.2" cy="378.6" r="1.26" fill="#111"/>
<path d="M637.90 402.88L637.90 407.72M635.81 404.09L639.99 406.51M639.99 404.09L635.81 406.51" stroke="#111" stroke-width="1.58" stroke-linecap="round"/>
<circle cx="637.9" cy="405.3" r="1.26" fill="#111"/>
<path d="M701.60 478.38L701.60 483.22M699.51 479.59L703.69 482.01M703.69 479.59L699.51 482.01" stroke="#111" stroke-width="1.58" stroke-linecap="round"/>
<circle cx="701.6" cy="480.8" r="1.26" fill="#111"/>
<text x="446.8" y="559.2" font-size="14.5" stroke="#2e2e2e" stroke-width="0.5" text-anchor="middle" textLength="25.7" lengthAdjust="spacingAndGlyphs" fill="#2e2e2e">1L A</text>
<text x="510.3" y="559.2" font-size="14.5" stroke="#2e2e2e" stroke-width="0.5" text-anchor="middle" textLength="24.4" lengthAdjust="spacingAndGlyphs" fill="#2e2e2e">1L T</text>
<text x="574.0" y="559.2" font-size="14.5" stroke="#2e2e2e" stroke-width="0.5" text-anchor="middle" textLength="25.4" lengthAdjust="spacingAndGlyphs" fill="#2e2e2e">2L A</text>
<text x="637.6" y="559.2" font-size="14.5" stroke="#2e2e2e" stroke-width="0.5" text-anchor="middle" textLength="23.0" lengthAdjust="spacingAndGlyphs" fill="#2e2e2e">2L T</text>
<text x="701.4" y="559.2" font-size="14.5" stroke="#2e2e2e" stroke-width="0.5" text-anchor="middle" textLength="44.1" lengthAdjust="spacingAndGlyphs" fill="#2e2e2e">235L A</text>
<text x="533.3" y="581.0" font-size="15.5" stroke="#262626" stroke-width="0.45" font-weight="bold" textLength="80.7" lengthAdjust="spacingAndGlyphs">Illumination</text>
<text x="379.0" y="497.0" font-size="14.5" stroke="#262626" stroke-width="0.45" font-weight="bold" textLength="95.5" lengthAdjust="spacingAndGlyphs" transform="rotate(-90 379.0 497.0)">Mean number</text>
<text x="522.8" y="331.0" font-size="20.5" stroke="#111" stroke-width="0.45" font-weight="bold" textLength="90.6" lengthAdjust="spacingAndGlyphs" fill="#111">Collisions</text>
<line x1="678.0" y1="308.8" x2="711.2" y2="308.8" stroke="#666666" stroke-width="2.2"/>
<path d="M694.5 304.1L698.8 308.8L694.5 313.6L690.2 308.8Z" fill="#777777"/>
<line x1="678.0" y1="328.2" x2="711.2" y2="328.2" stroke="#666666" stroke-width="2.2"/>
<rect x="689.2" y="322.9" width="10.5" height="10.5" fill="#777777"/>
<text x="714.0" y="313.1" font-size="14.2" stroke="#262626" stroke-width="0.5" textLength="16.1" lengthAdjust="spacingAndGlyphs">RP</text>
<text x="714.0" y="333.1" font-size="14.2" stroke="#262626" stroke-width="0.5" textLength="19.0" lengthAdjust="spacingAndGlyphs">CO</text>
<text x="218.6" y="820.8" font-size="14" stroke="#262626" stroke-width="0.5" text-anchor="end" textLength="7.8" lengthAdjust="spacingAndGlyphs">0</text>
<line x1="229.5" y1="794.7" x2="571.5" y2="794.7" stroke="#a8a8a8" stroke-width="1.6"/>
<text x="218.6" y="799.0" font-size="14" stroke="#262626" stroke-width="0.5" text-anchor="end" textLength="7.8" lengthAdjust="spacingAndGlyphs">2</text>
<line x1="229.5" y1="772.9" x2="571.5" y2="772.9" stroke="#a8a8a8" stroke-width="1.6"/>
<text x="218.6" y="777.2" font-size="14" stroke="#262626" stroke-width="0.5" text-anchor="end" textLength="7.8" lengthAdjust="spacingAndGlyphs">4</text>
<line x1="229.5" y1="751.1" x2="571.5" y2="751.1" stroke="#a8a8a8" stroke-width="1.6"/>
<text x="218.6" y="755.4" font-size="14" stroke="#262626" stroke-width="0.5" text-anchor="end" textLength="7.8" lengthAdjust="spacingAndGlyphs">6</text>
<line x1="229.5" y1="729.2" x2="571.5" y2="729.2" stroke="#a8a8a8" stroke-width="1.6"/>
<text x="218.6" y="733.5" font-size="14" stroke="#262626" stroke-width="0.5" text-anchor="end" textLength="7.8" lengthAdjust="spacingAndGlyphs">8</text>
<line x1="229.5" y1="707.4" x2="571.5" y2="707.4" stroke="#a8a8a8" stroke-width="1.6"/>
<text x="218.6" y="711.7" font-size="14" stroke="#262626" stroke-width="0.5" text-anchor="end" textLength="15.4" lengthAdjust="spacingAndGlyphs">10</text>
<line x1="229.5" y1="685.6" x2="571.5" y2="685.6" stroke="#a8a8a8" stroke-width="1.6"/>
<text x="218.6" y="689.9" font-size="14" stroke="#262626" stroke-width="0.5" text-anchor="end" textLength="15.4" lengthAdjust="spacingAndGlyphs">12</text>
<line x1="229.5" y1="663.8" x2="571.5" y2="663.8" stroke="#a8a8a8" stroke-width="1.6"/>
<text x="218.6" y="668.1" font-size="14" stroke="#262626" stroke-width="0.5" text-anchor="end" textLength="15.4" lengthAdjust="spacingAndGlyphs">14</text>
<line x1="234.0" y1="663.3" x2="234.0" y2="817.0" stroke="#9c9c9c" stroke-width="1.6"/>
<line x1="229.5" y1="816.5" x2="571.5" y2="816.5" stroke="#9c9c9c" stroke-width="1.6"/>
<line x1="234.0" y1="816.5" x2="234.0" y2="821.0" stroke="#9c9c9c" stroke-width="1.4"/>
<line x1="301.5" y1="816.5" x2="301.5" y2="821.0" stroke="#9c9c9c" stroke-width="1.4"/>
<line x1="369.0" y1="816.5" x2="369.0" y2="821.0" stroke="#9c9c9c" stroke-width="1.4"/>
<line x1="436.5" y1="816.5" x2="436.5" y2="821.0" stroke="#9c9c9c" stroke-width="1.4"/>
<line x1="504.0" y1="816.5" x2="504.0" y2="821.0" stroke="#9c9c9c" stroke-width="1.4"/>
<line x1="571.5" y1="816.5" x2="571.5" y2="821.0" stroke="#9c9c9c" stroke-width="1.4"/>
<path d="M266.8 664.4 Q268 659.4 276 659.4 L395 659.4 Q401 659.4 402 665.2" fill="none" stroke="#a0a0a0" stroke-width="1.5"/>
<path d="M332.7 659.4 Q334 653.6 342 653.6 L528 653.6 Q539 653.6 541.6 658.5" fill="none" stroke="#a0a0a0" stroke-width="1.5"/>
<circle cx="436.2" cy="645.3" r="2.6" fill="#8c8c8c"/>
<line x1="268.0" y1="685.1" x2="268.0" y2="789.9" stroke="#404040" stroke-width="1.45"/>
<line x1="263.9" y1="685.1" x2="272.1" y2="685.1" stroke="#404040" stroke-width="1.9"/>
<line x1="263.9" y1="789.9" x2="272.1" y2="789.9" stroke="#404040" stroke-width="1.9"/>
<line x1="335.6" y1="701.0" x2="335.6" y2="780.0" stroke="#404040" stroke-width="1.45"/>
<line x1="331.5" y1="701.0" x2="339.7" y2="701.0" stroke="#404040" stroke-width="1.9"/>
<line x1="331.5" y1="780.0" x2="339.7" y2="780.0" stroke="#404040" stroke-width="1.9"/>
<line x1="402.6" y1="730.8" x2="402.6" y2="780.0" stroke="#404040" stroke-width="1.45"/>
<line x1="398.5" y1="730.8" x2="406.7" y2="730.8" stroke="#404040" stroke-width="1.9"/>
<line x1="398.5" y1="780.0" x2="406.7" y2="780.0" stroke="#404040" stroke-width="1.9"/>
<line x1="470.6" y1="706.4" x2="470.6" y2="780.0" stroke="#404040" stroke-width="1.45"/>
<line x1="466.5" y1="706.4" x2="474.7" y2="706.4" stroke="#404040" stroke-width="1.9"/>
<line x1="466.5" y1="780.0" x2="474.7" y2="780.0" stroke="#404040" stroke-width="1.9"/>
<line x1="538.0" y1="761.4" x2="538.0" y2="782.0" stroke="#404040" stroke-width="1.45"/>
<line x1="533.9" y1="761.4" x2="542.1" y2="761.4" stroke="#404040" stroke-width="1.9"/>
<line x1="533.9" y1="782.0" x2="542.1" y2="782.0" stroke="#404040" stroke-width="1.9"/>
<polyline points="268.0,777.8 335.6,774.9 402.6,774.4 470.6,773.6 538.0,775.5" fill="none" stroke="#666666" stroke-width="3" stroke-linejoin="round"/>
<polyline points="268.0,737.6 335.6,740.5 402.6,752.8 470.6,743.8 538.0,770.9" fill="none" stroke="#666666" stroke-width="3" stroke-linejoin="round"/>
<path d="M268.0 732.2L273.1 737.6L268.0 743.0L262.9 737.6Z" fill="#777777"/>
<path d="M335.6 735.1L340.7 740.5L335.6 745.9L330.5 740.5Z" fill="#777777"/>
<path d="M402.6 747.4L407.7 752.8L402.6 758.2L397.5 752.8Z" fill="#777777"/>
<path d="M470.6 738.4L475.7 743.8L470.6 749.2L465.5 743.8Z" fill="#777777"/>
<path d="M538.0 765.5L543.1 770.9L538.0 776.3L532.9 770.9Z" fill="#777777"/>
<rect x="262.2" y="772.0" width="11.5" height="11.5" fill="#777777"/>
<rect x="329.9" y="769.1" width="11.5" height="11.5" fill="#777777"/>
<rect x="396.9" y="768.6" width="11.5" height="11.5" fill="#777777"/>
<rect x="464.9" y="767.9" width="11.5" height="11.5" fill="#777777"/>
<rect x="532.2" y="769.8" width="11.5" height="11.5" fill="#777777"/>
<path d="M268.00 671.69L268.00 676.51M265.91 672.89L270.09 675.31M270.09 672.89L265.91 675.31" stroke="#111" stroke-width="1.58" stroke-linecap="round"/>
<circle cx="268.0" cy="674.1" r="1.26" fill="#111"/>
<path d="M335.60 689.29L335.60 694.12M333.51 690.49L337.69 692.91M337.69 690.49L333.51 692.91" stroke="#111" stroke-width="1.58" stroke-linecap="round"/>
<circle cx="335.6" cy="691.7" r="1.26" fill="#111"/>
<path d="M402.50 717.79L402.50 722.62M400.41 718.99L404.59 721.41M404.59 718.99L400.41 721.41" stroke="#111" stroke-width="1.58" stroke-linecap="round"/>
<circle cx="402.5" cy="720.2" r="1.26" fill="#111"/>
<path d="M470.60 691.79L470.60 696.62M468.51 692.99L472.69 695.41M472.69 692.99L468.51 695.41" stroke="#111" stroke-width="1.58" stroke-linecap="round"/>
<circle cx="470.6" cy="694.2" r="1.26" fill="#111"/>
<text x="268.0" y="842.6" font-size="14.5" stroke="#2e2e2e" stroke-width="0.5" text-anchor="middle" textLength="25.8" lengthAdjust="spacingAndGlyphs" fill="#2e2e2e">1L A</text>
<text x="335.6" y="842.6" font-size="14.5" stroke="#2e2e2e" stroke-width="0.5" text-anchor="middle" textLength="24.0" lengthAdjust="spacingAndGlyphs" fill="#2e2e2e">1L T</text>
<text x="402.6" y="842.6" font-size="14.5" stroke="#2e2e2e" stroke-width="0.5" text-anchor="middle" textLength="26.0" lengthAdjust="spacingAndGlyphs" fill="#2e2e2e">2L A</text>
<text x="470.6" y="842.6" font-size="14.5" stroke="#2e2e2e" stroke-width="0.5" text-anchor="middle" textLength="24.0" lengthAdjust="spacingAndGlyphs" fill="#2e2e2e">2L T</text>
<text x="538.0" y="842.6" font-size="14.5" stroke="#2e2e2e" stroke-width="0.5" text-anchor="middle" textLength="44.0" lengthAdjust="spacingAndGlyphs" fill="#2e2e2e">235L A</text>
<text x="362.7" y="866.6" font-size="15.5" stroke="#262626" stroke-width="0.45" font-weight="bold" textLength="80.3" lengthAdjust="spacingAndGlyphs">Illumination</text>
<text x="189.8" y="787.2" font-size="14.5" stroke="#262626" stroke-width="0.45" font-weight="bold" textLength="94.8" lengthAdjust="spacingAndGlyphs" transform="rotate(-90 189.8 787.2)">Mean number</text>
<text x="358.6" y="632.8" font-size="19.5" stroke="#111" stroke-width="0.45" font-weight="bold" textLength="93.5" lengthAdjust="spacingAndGlyphs" fill="#111">Segments</text>
<line x1="510.3" y1="617.0" x2="544.4" y2="617.0" stroke="#666666" stroke-width="2.2"/>
<path d="M527.6 612.5L531.9 617.0L527.6 621.5L523.4 617.0Z" fill="#777777"/>
<line x1="510.3" y1="641.2" x2="544.4" y2="641.2" stroke="#666666" stroke-width="2.2"/>
<rect x="522.8" y="636.4" width="9.7" height="9.7" fill="#777777"/>
<text x="547.2" y="621.3" font-size="14.2" stroke="#262626" stroke-width="0.5" textLength="16.2" lengthAdjust="spacingAndGlyphs">RP</text>
<text x="547.2" y="646.1" font-size="14.2" stroke="#262626" stroke-width="0.5" textLength="18.9" lengthAdjust="spacingAndGlyphs">CO</text>
</g>
</svg>
</body></html>
